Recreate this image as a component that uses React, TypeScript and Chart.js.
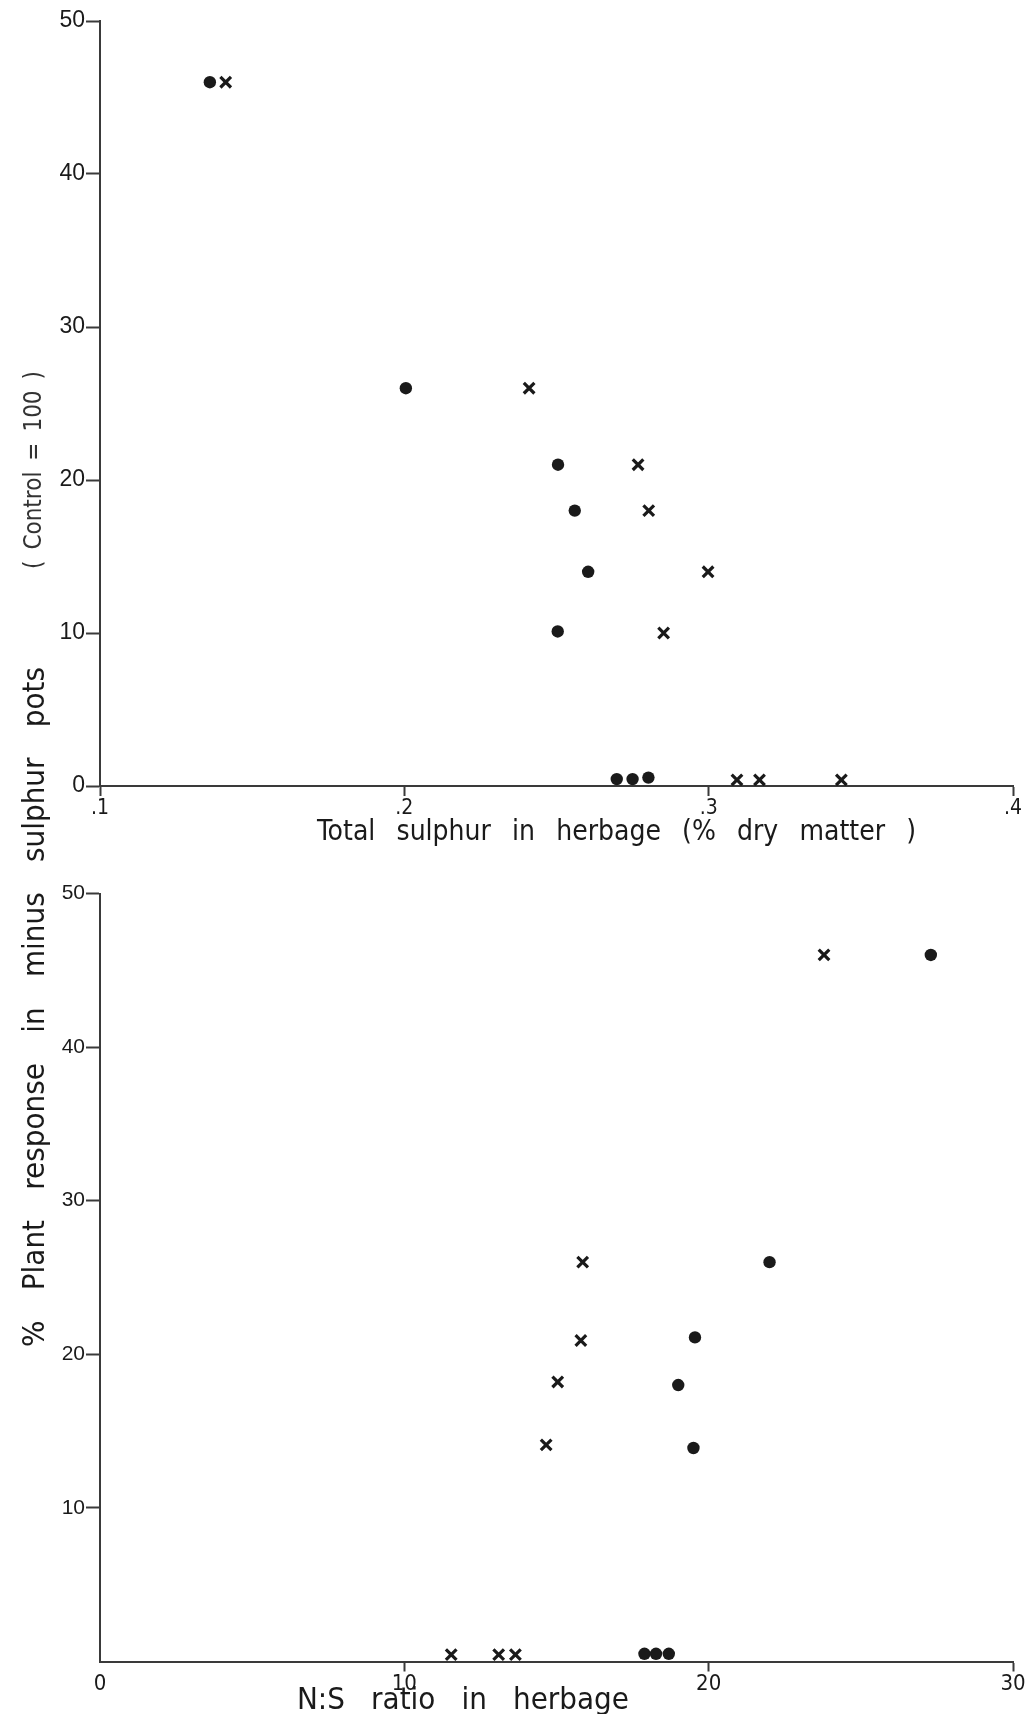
import React, { useEffect, useRef } from 'react';
import { Chart, registerables } from 'chart.js';

Chart.register(...registerables);

// ---- Data: top panel (total sulphur in herbage, % dry matter) ----
const sulphurDotX = [0.1361, 0.2005, 0.2505, 0.256, 0.2604, 0.2504, 0.2698, 0.275, 0.2802];
const sulphurDotY = [46, 26, 21, 18, 14, 10.1, 0.45, 0.45, 0.55];
const sulphurCrossX = [0.1413, 0.241, 0.2768, 0.2803, 0.2998, 0.2852, 0.3093, 0.3167, 0.3436];
const sulphurCrossY = [46, 26, 21, 18, 14, 10, 0.4, 0.4, 0.4];
const sulphurTicks = [0.1, 0.2, 0.3, 0.4];

// ---- Data: bottom panel (N:S ratio in herbage) ----
const ratioDotX = [27.3, 22.0, 19.55, 19.0, 19.5, 17.89, 18.27, 18.69];
const ratioDotY = [46, 26, 21.1, 18, 13.9, 0.5, 0.5, 0.5];
const ratioCrossX = [23.79, 15.86, 15.8, 15.04, 14.66, 11.54, 13.1, 13.65];
const ratioCrossY = [46, 26, 20.9, 18.2, 14.1, 0.45, 0.45, 0.45];
const ratioTicks = [0, 10, 20, 30];

const responseTicksTop = [0, 10, 20, 30, 40, 50];
const responseTicksBottom = [10, 20, 30, 40, 50];

const INK = '#1a1a1a';
const AXIS = '#3a3a3a';
const NARROW = '"Liberation Sans Narrow", "DejaVu Sans Condensed", "Liberation Sans", sans-serif';
const WIDE = '"Liberation Sans", Arial, sans-serif';

function pts(xs: number[], ys: number[]) {
  return xs.map((x, i) => ({ x, y: ys[i] }));
}

function buildConfig(opts: {
  dotX: number[]; dotY: number[]; crossX: number[]; crossY: number[];
  xTicks: number[]; yTicks: number[]; xFmt: (v: number) => string;
  padTop: number; xHeight: number; yFontSize: number; xFontSize: number; hideZeroXTick: boolean;
}): any {
  return {
    type: 'scatter',
    data: {
      datasets: [
        {
          label: 'dot',
          data: pts(opts.dotX, opts.dotY),
          pointStyle: 'circle',
          pointRadius: 6.2,
          backgroundColor: INK,
          borderColor: INK,
          borderWidth: 0,
        },
        {
          label: 'cross',
          data: pts(opts.crossX, opts.crossY),
          pointStyle: 'crossRot',
          pointRadius: 7.5,
          backgroundColor: INK,
          borderColor: INK,
          borderWidth: 3.2,
        },
      ],
    },
    options: {
      responsive: false,
      animation: false,
      events: [],
      layout: { padding: { top: opts.padTop, right: 16, left: 0, bottom: 0 } },
      plugins: { legend: { display: false }, tooltip: { enabled: false }, title: { display: false } },
      scales: {
        x: {
          type: 'linear',
          min: opts.xTicks[0],
          max: opts.xTicks[opts.xTicks.length - 1],
          afterBuildTicks: (s: any) => { s.ticks = opts.xTicks.map((v) => ({ value: v })); },
          afterFit: (s: any) => { s.height = opts.xHeight; },
          border: { display: true, color: AXIS, width: 2 },
          grid: {
            drawOnChartArea: false,
            drawTicks: true,
            tickLength: 10,
            tickWidth: 2,
            tickColor: (c: any) => (opts.hideZeroXTick && c.tick && c.tick.value === 0 ? 'rgba(0,0,0,0)' : AXIS),
          },
          ticks: {
            color: INK,
            padding: 0,
            maxRotation: 0,
            autoSkip: false,
            font: { family: NARROW, size: opts.xFontSize },
            callback: (v: any) => opts.xFmt(Number(v)),
          },
        },
        y: {
          type: 'linear',
          min: 0,
          max: 50,
          afterBuildTicks: (s: any) => { s.ticks = opts.yTicks.map((v) => ({ value: v })); },
          afterFit: (s: any) => { s.width = 100; },
          border: { display: true, color: AXIS, width: 2 },
          grid: { drawOnChartArea: false, drawTicks: true, tickLength: 14, tickWidth: 2, tickColor: AXIS },
          ticks: {
            color: INK,
            padding: 1,
            autoSkip: false,
            font: { family: WIDE, size: opts.yFontSize },
            callback: (v: any) => String(v),
          },
        },
      },
    },
  };
}

function ScatterPanel(props: { top: number; height: number; config: any }) {
  const ref = useRef<HTMLCanvasElement | null>(null);
  useEffect(() => {
    if (!ref.current) return;
    const chart = new Chart(ref.current, props.config);
    return () => chart.destroy();
  }, []);
  return (
    <canvas
      ref={ref}
      width={1029}
      height={props.height}
      style={{ position: 'absolute', left: 0, top: props.top, width: 1029, height: props.height }}
    />
  );
}

const justify: React.CSSProperties = {
  position: 'absolute',
  whiteSpace: 'normal',
  textAlign: 'justify',
  textAlignLast: 'justify' as any,
  color: INK,
  overflow: 'visible',
};

export default function App() {
  const topCfg = buildConfig({
    dotX: sulphurDotX, dotY: sulphurDotY, crossX: sulphurCrossX, crossY: sulphurCrossY,
    xTicks: sulphurTicks, yTicks: responseTicksTop,
    xFmt: (v) => v.toFixed(1).replace(/^0/, ''),
    padTop: 21, xHeight: 74, yFontSize: 23, xFontSize: 21, hideZeroXTick: false,
  });
  const bottomCfg = buildConfig({
    dotX: ratioDotX, dotY: ratioDotY, crossX: ratioCrossX, crossY: ratioCrossY,
    xTicks: ratioTicks, yTicks: responseTicksBottom,
    xFmt: (v) => String(v),
    padTop: 33.5, xHeight: 52.5, yFontSize: 21, xFontSize: 22, hideZeroXTick: true,
  });

  const mainLen = 680;
  const mainCenter = 1007;

  return (
    <div style={{ position: 'absolute', left: 0, top: 0, width: 1029, height: 1714, background: '#ffffff', overflow: 'hidden' }}>
      <ScatterPanel top={0} height={860} config={topCfg} />
      <ScatterPanel top={860} height={854} config={bottomCfg} />

      {/* shared vertical axis title */}
      <div
        style={{
          ...justify,
          width: mainLen, height: 36, lineHeight: '36px',
          left: 33 - mainLen / 2, top: mainCenter - 18,
          transform: 'rotate(-90deg)', transformOrigin: 'center center',
          fontFamily: NARROW, fontSize: 31,
        }}
      >
        % Plant response in minus sulphur pots
      </div>
      <div
        style={{
          ...justify,
          width: 198, height: 32, lineHeight: '32px',
          left: 33 - 198 / 2, top: 470 - 16,
          transform: 'rotate(-90deg)', transformOrigin: 'center center',
          fontFamily: NARROW, fontSize: 24, fontWeight: 300, color: '#333',
        }}
      >
        ( Control = 100 )
      </div>

      {/* x axis titles */}
      <div
        style={{
          ...justify,
          width: 599, height: 34, lineHeight: '34px',
          left: 317, top: 831 - 17,
          fontFamily: NARROW, fontSize: 28,
        }}
      >
        Total sulphur in herbage (% dry matter )
      </div>
      <div
        style={{
          ...justify,
          width: 332, height: 36, lineHeight: '36px',
          left: 297, top: 1680,
          fontFamily: NARROW, fontSize: 31,
        }}
      >
        N:S ratio in herbage
      </div>
    </div>
  );
}
